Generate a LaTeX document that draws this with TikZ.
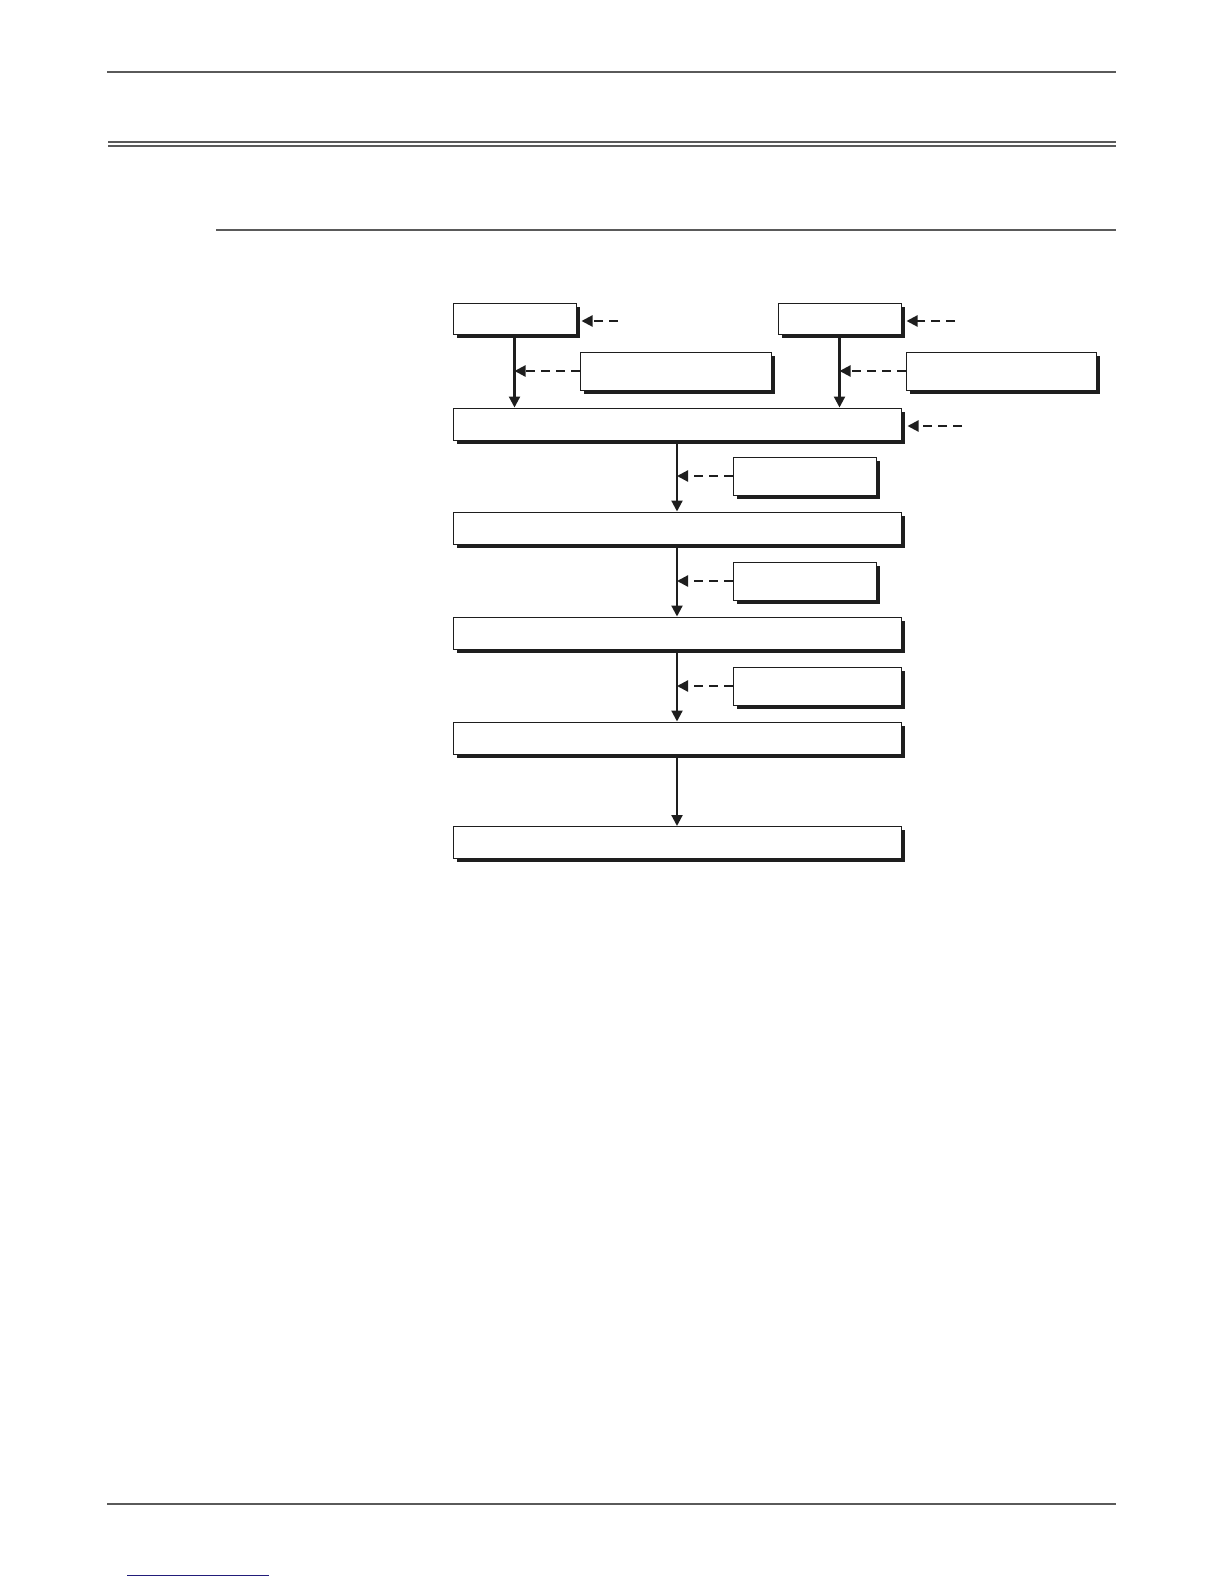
\documentclass[tikz,border=0pt]{standalone}
\usetikzlibrary{arrows.meta,shadows}
\definecolor{rulegray}{HTML}{5A5A5A}
\definecolor{boxblack}{HTML}{1E1E1E}
\definecolor{linkblue}{HTML}{221D7A}
\begin{document}
\begin{tikzpicture}[x=1pt,y=-1pt,
  box/.style={draw=boxblack, line width=1pt, fill=white, inner sep=0pt,
    general shadow={fill=boxblack, shadow xshift=3.5pt, shadow yshift=-3.5pt}},
  flow/.style={-{Triangle[length=11pt,width=11pt]}, line width=2.2pt, draw=boxblack},
  feed/.style={flow, dash pattern=on 9pt off 6pt}]
\useasboundingbox (0,0) rectangle (1224,1584);
% page rules
\draw[rulegray, line width=2pt] (107,72) -- (1116,72);
\draw[rulegray, line width=2.4pt] (108,142.2) -- (1116,142.2);
\draw[rulegray, line width=1.6pt] (108,145.8) -- (1116,145.8);
\draw[rulegray, line width=2pt] (216,230) -- (1116,230);
\draw[rulegray, line width=2pt] (107,1504) -- (1116,1504);
\draw[linkblue, line width=1pt] (127,1575) -- (269,1575);
% boxes
\node[box, minimum width=123pt, minimum height=31pt] (S1) at (514.5,318.5) {};
\node[box, minimum width=123pt, minimum height=31pt] (S2) at (839.5,318.5) {};
\node[box, minimum width=191pt, minimum height=38pt] (I1) at (675.5,371) {};
\node[box, minimum width=190pt, minimum height=38pt] (I2) at (1001,371) {};
\node[box, minimum width=448pt, minimum height=32pt] (B1) at (677,424) {};
\node[box, minimum width=143pt, minimum height=38pt] (E1) at (804.5,476) {};
\node[box, minimum width=448pt, minimum height=32pt] (B2) at (677,528) {};
\node[box, minimum width=143pt, minimum height=38pt] (E2) at (804.5,581) {};
\node[box, minimum width=448pt, minimum height=32pt] (B3) at (677,633) {};
\node[box, minimum width=168pt, minimum height=38pt] (E3) at (817,686) {};
\node[box, minimum width=448pt, minimum height=32pt] (B4) at (677,738) {};
\node[box, minimum width=448pt, minimum height=32pt] (B5) at (677,842.5) {};
% free ends of the dashed feeds
\coordinate (f1) at (618,321);
\coordinate (f2) at (955,321);
\coordinate (f3) at (962,426);
% connectors
\draw[flow] (S1.south) -- (S1.south |- B1.north);
\draw[flow] (S2.south) -- (S2.south |- B1.north);
\draw[flow] (B1) -- (B2);
\draw[flow] (B2) -- (B3);
\draw[flow] (B3) -- (B4);
\draw[flow] (B4) -- (B5);
\draw[feed, shorten >=5pt] (f1) -- (f1 -| S1.east);
\draw[feed, shorten >=5pt] (f2) -- (f2 -| S2.east);
\draw[feed, shorten >=6pt] (f3) -- (f3 -| B1.east);
\draw[feed] (I1.west) -- (I1.west -| S1.south);
\draw[feed] (I2.west) -- (I2.west -| S2.south);
\draw[feed] (E1.west) -- (E1.west -| B1.south);
\draw[feed] (E2.west) -- (E2.west -| B2.south);
\draw[feed] (E3.west) -- (E3.west -| B3.south);
\end{tikzpicture}
\end{document}
